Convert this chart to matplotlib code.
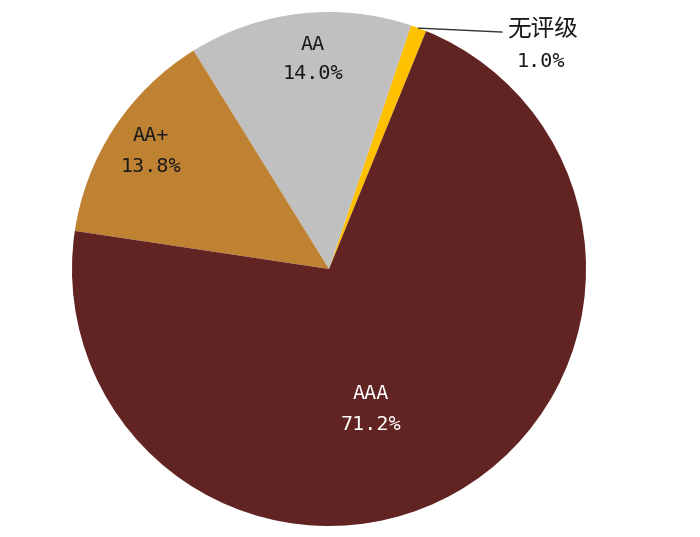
import numpy as np
import matplotlib
matplotlib.use("Agg")
import matplotlib.pyplot as plt

categories = ["无评级", "AA", "AA+", "AAA"]
values = [1.0, 14.0, 13.8, 71.2]
pct_labels = ["1.0%", "14.0%", "13.8%", "71.2%"]
colors = ["#FFC000", "#C0C0C0", "#BF8232", "#622323"]

plt.rcParams['font.family'] = ['DejaVu Sans Mono', 'Noto Sans CJK SC']

fig = plt.figure(figsize=(7.0, 5.37), dpi=100)
W, H = 700, 537
cx, cy, R = 329, 269, 257
ax = fig.add_axes([(cx - R) / W, (H - cy - R) / H, 2 * R / W, 2 * R / H])
wedges, _ = ax.pie(values, colors=colors, startangle=67.8, counterclock=True,
                   radius=1.0, wedgeprops=dict(linewidth=0))
ax.set_xlim(-1, 1)
ax.set_ylim(-1, 1)
ax.set_aspect('equal')
ax.axis('off')

# label placements (layout): centre of the two-line label and half gap
inner_pos = {1: (-0.062, 0.817, 0.058),
             2: (-0.693, 0.459, 0.061),
             3: (0.163, -0.545, 0.060)}
text_colors = {1: "#1a1a1a", 2: "#1a1a1a", 3: "white"}
for i, (x, y, g) in inner_pos.items():
    ax.text(x, y + g, categories[i], ha='center', va='center',
            fontsize=14.5, color=text_colors[i])
    ax.text(x, y - g, pct_labels[i], ha='center', va='center',
            fontsize=14.5, color=text_colors[i])

# outside label for the small slice
w0 = wedges[0]
mid = np.deg2rad((w0.theta1 + w0.theta2) / 2)
ex, ey = np.cos(mid), np.sin(mid)
ax.plot([ex, 0.673], [ey, 0.922], color="#333333", lw=1.0, clip_on=False)
ax.text(0.829, 0.934, categories[0], ha='center', va='center', fontsize=17,
        color="#1a1a1a")
ax.text(0.825, 0.807, pct_labels[0], ha='center', va='center', fontsize=14.5,
        color="#1a1a1a")

fig.savefig("out.png", dpi=100)
